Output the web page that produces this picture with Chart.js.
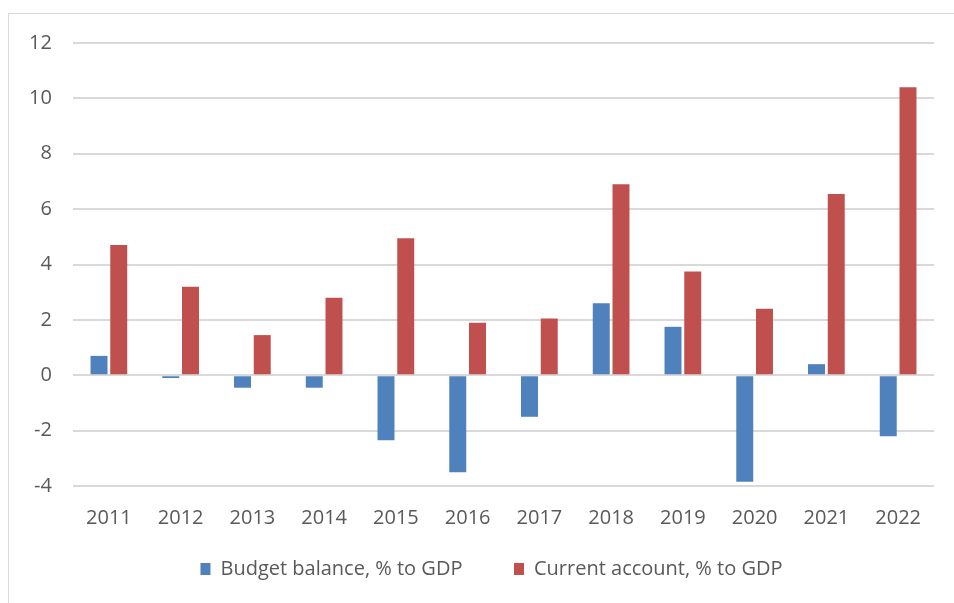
<!DOCTYPE html>
<html>
<head>
<meta charset="utf-8">
<script src="https://cdn.jsdelivr.net/npm/chart.js@4"></script>
<style>
  body { margin: 0; background: #fff; overflow: hidden; }
  #box {
    position: absolute; left: 8px; top: 13px;
    width: 960px; height: 600px;
    border: 1px solid #d9d9d9; box-sizing: border-box;
  }
  #wrap { position: absolute; left: 6px; top: 1px; width: 939px; height: 588px; }
</style>
</head>
<body>
<div id="box"><div id="wrap"><canvas id="grafico"></canvas></div></div>
<script>
// data
const years = ['2011', '2012', '2013', '2014', '2015', '2016', '2017', '2018', '2019', '2020', '2021', '2022'];
const budgetBalance = [0.7, -0.1, -0.45, -0.45, -2.35, -3.5, -1.5, 2.6, 1.75, -3.85, 0.4, -2.2];
const currentAccount = [4.7, 3.2, 1.45, 2.8, 4.95, 1.9, 2.05, 6.9, 3.75, 2.4, 6.55, 10.4];
const yTicks = [-4, -2, 0, 2, 4, 6, 8, 10, 12];

const fonte = { family: "'Open Sans', sans-serif", size: 20 };
const cinza = '#595959';

document.addEventListener("DOMContentLoaded", function () {
  const ctx = document.getElementById('grafico').getContext('2d');
  new Chart(ctx, {
    type: 'bar',
    data: {
      labels: years,
      datasets: [{
        label: 'Budget balance, % to GDP',
        data: budgetBalance,
        backgroundColor: '#4f81bd',
        categoryPercentage: 0.55,
        barPercentage: 0.86
      }, {
        label: 'Current account, % to GDP',
        data: currentAccount,
        backgroundColor: '#c0504d',
        categoryPercentage: 0.55,
        barPercentage: 0.86
      }]
    },
    options: {
      responsive: true,
      maintainAspectRatio: false,
      animation: false,
      layout: { padding: { top: 28, right: 20, bottom: 14, left: 34 } },
      plugins: {
        tooltip: { enabled: false },
        legend: {
          position: 'bottom',
          labels: {
            boxWidth: 10, boxHeight: 12, padding: 10,
            color: cinza, font: fonte,
            generateLabels: function (chart) {
              const itens = Chart.defaults.plugins.legend.labels.generateLabels(chart);
              // espaço entre as duas entradas da legenda
              itens[0].text += '        ';
              return itens;
            }
          }
        }
      },
      scales: {
        x: {
          afterFit: function (scale) { scale.height = 63; },
          grid: { display: false },
          border: { display: false },
          ticks: { color: cinza, font: fonte, padding: 12, maxRotation: 0 }
        },
        y: {
          min: -4, max: 12,
          afterFit: function (scale) { scale.width = 24; },
          afterBuildTicks: function (scale) { scale.ticks = yTicks.map(v => ({ value: v })); },
          grid: { color: '#d9d9d9', lineWidth: 2, drawTicks: false },
          border: { display: false },
          ticks: { color: cinza, font: fonte, mirror: true, crossAlign: 'far', padding: -44 }
        }
      }
    }
  });
});
</script>
</body>
</html>
